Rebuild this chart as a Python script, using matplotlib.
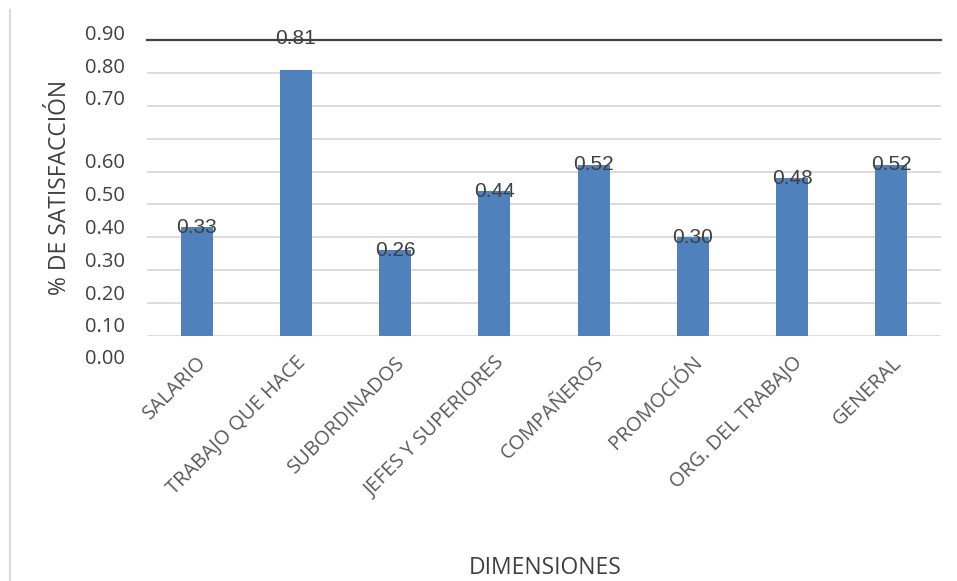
import matplotlib
matplotlib.use("Agg")
import matplotlib.pyplot as plt
import matplotlib.transforms as mtransforms

# Satisfaction index per dimension
categories = ["SALARIO", "TRABAJO QUE HACE", "SUBORDINADOS", "JEFES Y SUPERIORES",
              "COMPAÑEROS", "PROMOCIÓN", "ORG. DEL TRABAJO", "GENERAL"]
values = [0.33, 0.81, 0.26, 0.44, 0.52, 0.30, 0.48, 0.52]

# Value-axis text labels and the heights where they are printed
ytick_labels = ["0.00", "0.10", "0.20", "0.30", "0.40", "0.50", "0.60", "0.70", "0.80", "0.90"]
ytick_label_pos = [-0.070, 0.027, 0.125, 0.226, 0.325, 0.4265, 0.526, 0.717, 0.8155, 0.915]
grid_values = [0.0, 0.1, 0.2, 0.3, 0.4, 0.5, 0.6, 0.7, 0.8]

BAR = "#4F81BD"
TXT = "#404040"
CAT = "#595959"
GRID = "#D9D9D9"

fig = plt.figure(figsize=(9.57, 5.81), dpi=100)
W, H = 957, 581
ax = fig.add_axes([147 / W, 1 - 336 / H, 794 / W, 296 / H])

ax.set_xlim(-0.5, len(categories) - 0.5)
ax.set_ylim(0, 0.9)

for g in grid_values:
    ax.axhline(g, color=GRID, lw=1.3, zorder=1)

x = list(range(len(categories)))
ax.bar(x, values, width=0.32, color=BAR, zorder=2)

# Data labels centred on each bar top; the tallest one sits on the top line
top = max(values)
for xi, v in zip(x, values):
    ly = 0.906 if v == top else v
    ax.text(xi, ly, f"{v:.2f}", ha="center", va="center", fontsize=15,
            family="Liberation Sans", color=TXT, zorder=3)

for s in ["left", "right", "bottom"]:
    ax.spines[s].set_visible(False)
ax.spines["top"].set_color(TXT)
ax.spines["top"].set_linewidth(1.6)

ax.set_yticks([])
trans = mtransforms.blended_transform_factory(ax.transAxes, ax.transData)
for lab, pos in zip(ytick_labels, ytick_label_pos):
    ax.text(-0.028, pos, lab, transform=trans, ha="right", va="center",
            fontsize=14.5, family="Open Sans", color=TXT, clip_on=False)

ax.set_xticks(x)
ax.set_xticklabels(categories, rotation=45, ha="right", rotation_mode="anchor",
                   fontsize=14.5, family="Open Sans", color=CAT)
ax.tick_params(axis="x", length=0, pad=12)

fig.text(60 / W, 1 - 187 / H, "% DE SATISFACCIÓN", rotation=90, ha="center", va="center",
         fontsize=16.5, family="Open Sans", color=TXT)
fig.text(545 / W, 1 - 568 / H, "DIMENSIONES", ha="center", va="center",
         fontsize=16.5, family="Open Sans", color=TXT)

# Chart-area frame edge on the left
fig.add_artist(plt.Line2D([10 / W, 10 / W], [0, 1 - 10 / H], transform=fig.transFigure,
                          color=GRID, lw=1.5))

fig.savefig("out.png", dpi=100)
